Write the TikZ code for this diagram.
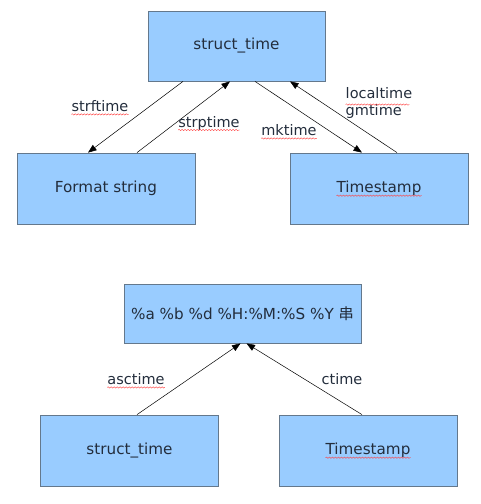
\documentclass[tikz,border=0pt]{standalone}
\usepackage{fontspec}
\setmainfont{DejaVu Sans}
\newfontfamily\cjk{Noto Sans CJK SC}
\usepackage{tikz}
\usetikzlibrary{arrows.meta,positioning,decorations.pathmorphing}
\definecolor{boxfill}{RGB}{153,204,255}
\definecolor{boxline}{RGB}{100,120,140}
\definecolor{ink}{RGB}{35,45,60}

\begin{document}
\begin{tikzpicture}[
  x=1pt, y=-1pt,
  box/.style={rectangle, draw=boxline, fill=boxfill, line width=0.8pt,
              minimum width=#1, minimum height=71pt, inner sep=0pt,
              text=ink, font=\fontsize{15.2}{17}\selectfont},
  box/.default=178pt,
  arrow/.style={-{Triangle[length=8.5pt,width=6.5pt]}, line width=0.5pt},
  lbl/.style={text=ink, inner sep=0pt, font=\fontsize{14.5}{16.5}\selectfont},
  wavy/.style={draw=red!75, line width=0.4pt, decorate,
               decoration={snake, amplitude=0.7pt, segment length=3pt}}
]
  \useasboundingbox (0,0) rectangle (480,504);

  % -- struct_time conversions --
  \node[box=177pt, minimum height=70pt] (st) at (236.5,46) {struct\_time};
  \node[box] (fmt) at (106,188.5) {Format string};
  \node[box] (ts) at (379,188.5) {Timestamp};

  \draw[arrow] ([xshift=-53.5pt]st.south) -- ([xshift=-18pt]fmt.north);
  \draw[arrow] ([xshift=31pt]fmt.north) -- ([xshift=-6.5pt]st.south);
  \draw[arrow] ([xshift=18.5pt]st.south) -- ([xshift=-17pt]ts.north);
  \draw[arrow] ([xshift=18pt]ts.north) -- ([xshift=53.5pt]st.south);

  \node[lbl] (lstrf) at (100,106) {strftime};
  \node[lbl] (lstrp) at (209,123) {strptime};
  \node[lbl] (lmk) at (289,130) {mktime};
  \node[lbl, align=left] (lloc) at (379,103) {localtime\\gmtime};

  % -- string output --
  \node[box=237pt, minimum height=59pt] (out) at (242.5,313.5)
    {\%a \%b \%d \%H:\%M:\%S \%Y {\cjk 串}};
  \node[box] (bst) at (129.5,450.5) {struct\_time};
  \node[box] (bts) at (368,450.5) {Timestamp};

  \draw[arrow] ([xshift=7.5pt]bst.north) -- ([xshift=-2pt]out.south);
  \draw[arrow] ([xshift=-6pt]bts.north) -- ([xshift=4pt]out.south);

  \node[lbl] (lasc) at (136,379) {asctime};
  \node[lbl] (lct) at (342,379) {ctime};

  % spell-check underlines
  \foreach \w in {lstrf,lstrp,lmk,lasc}
    \path[wavy] ([yshift=-3pt]\w.base west) -- ([yshift=-3pt]\w.base east);
  \path[wavy] ([yshift=-3pt]lloc.north west) ++(0,14) -- ++(64,0);
  \foreach \w in {ts,bts}
    \path[wavy] ([xshift=-42.5pt,yshift=-3pt]\w.base) -- ([xshift=42.5pt,yshift=-3pt]\w.base);
\end{tikzpicture}
\end{document}
